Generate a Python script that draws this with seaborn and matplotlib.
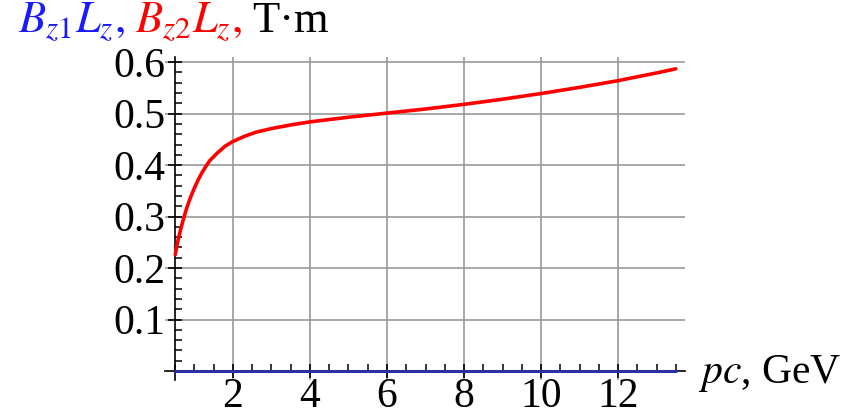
import numpy as np
import pandas as pd
import matplotlib
matplotlib.use("Agg")
import matplotlib.pyplot as plt
from matplotlib.ticker import MultipleLocator, FixedLocator, FixedFormatter
import seaborn as sns

# Integrated field of the two lenses versus beam momentum
pc_gev = [0.5, 0.55, 0.6, 0.7, 0.8, 0.9, 1.0, 1.1, 1.2, 1.3, 1.4, 1.6, 1.8,
          2.0, 2.3, 2.6, 3.0, 3.5, 4.0, 5.0, 6.0, 7.0, 8.0, 9.0, 10.0, 11.0,
          12.0, 13.0, 13.5]
bz2_lz = [0.226, 0.246, 0.263, 0.292, 0.317, 0.338, 0.356, 0.372, 0.386,
          0.398, 0.409, 0.424, 0.437, 0.446, 0.456, 0.464, 0.471, 0.478,
          0.484, 0.493, 0.501, 0.509, 0.518, 0.528, 0.539, 0.551, 0.564,
          0.579, 0.587]
bz1_lz = [0.0] * len(pc_gev)

x_ticks = [2, 4, 6, 8, 10, 12]
x_tick_labels = ["2", "4", "6", "8", "10", "12"]
y_ticks = [0.1, 0.2, 0.3, 0.4, 0.5, 0.6]
y_tick_labels = ["0.1", "0.2", "0.3", "0.4", "0.5", "0.6"]

sns.set_style("white")
plt.rcParams["font.family"] = ["Liberation Serif", "DejaVu Serif"]
plt.rcParams["mathtext.fontset"] = "stix"

W, H = 861, 415
fig = plt.figure(figsize=(W / 100, H / 100), dpi=100)
ax = fig.add_axes([165 / W, 1 - 380 / H, (685 - 165) / W, (380 - 57) / H])

df = pd.DataFrame({"pc": pc_gev, "b1": bz1_lz, "b2": bz2_lz})
sns.lineplot(data=df, x="pc", y="b2", ax=ax, color="#ff0000", lw=2.6,
             zorder=4)
sns.lineplot(data=df, x="pc", y="b1", ax=ax, color="#2e2ea6", lw=2.2,
             zorder=3, clip_on=False)

ax.set_xlim(0.234, 13.74)
ax.set_ylim(-0.0175, 0.61)

for s in ("top", "right"):
    ax.spines[s].set_visible(False)
ax.spines["left"].set_position(("data", 0.5))
ax.spines["bottom"].set_position(("data", 0.0))
for s in ("left", "bottom"):
    ax.spines[s].set_color("black")
    ax.spines[s].set_linewidth(1.2)
    ax.spines[s].set_zorder(2)

ax.xaxis.set_major_locator(FixedLocator(x_ticks))
ax.xaxis.set_major_formatter(FixedFormatter(x_tick_labels))
ax.yaxis.set_major_locator(FixedLocator(y_ticks))
ax.yaxis.set_major_formatter(FixedFormatter(y_tick_labels))
ax.xaxis.set_minor_locator(MultipleLocator(0.5))
ax.yaxis.set_minor_locator(MultipleLocator(0.02))

ax.tick_params(which="both", left=True, bottom=True, top=False, right=False)
ax.tick_params(which="major", direction="inout", length=10, width=1.2,
               color="black", labelsize=30, labelcolor="black")
ax.tick_params(axis="x", which="major", pad=0)
ax.tick_params(axis="y", which="major", pad=2)
ax.tick_params(which="minor", direction="in", length=5, width=1.1,
               color="black")

ax.grid(True, which="major", color="#999999", lw=1.2)
ax.set_axisbelow(True)
ax.set_xlabel("")
ax.set_ylabel("")

# Axis caption on the right of the horizontal axis
fig.text(698 / W, 1 - 383 / H, "$pc$, GeV", fontsize=30, va="baseline",
         ha="left", color="black")

# Coloured heading above the vertical axis
pieces = [("$B_{\\mathit{z1}}L_{z},$", "#1a1aff"),
          ("$B_{\\mathit{z2}}L_{z},$", "#ff0000"),
          ("T·m", "black")]
renderer = fig.canvas.get_renderer()
x0 = 18
for txt, col in pieces:
    t = fig.text(x0 / W, 1 - 32 / H, txt, fontsize=32, color=col,
                 va="baseline", ha="left")
    bb = t.get_window_extent(renderer)
    x0 = bb.x1 + 10

fig.savefig("out.png", dpi=100)
